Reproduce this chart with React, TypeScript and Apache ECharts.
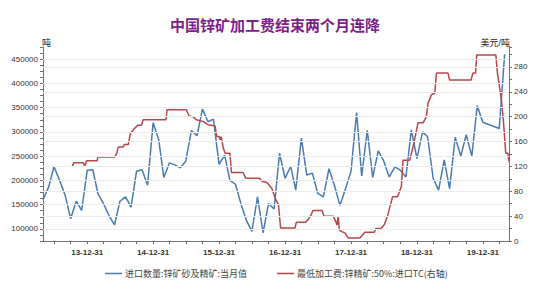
import React, { useEffect, useRef } from "react";
import * as echarts from "echarts";

const titleText = "中国锌矿加工费结束两个月连降";
const blueName = "进口数量:锌矿砂及精矿:当月值";
const redName = "最低加工费:锌精矿:50%:进口TC(右轴)";
const leftUnit = "吨";
const rightUnit = "美元/吨";

// monthly values, month-end, starting 2013-04
const blueStartYear = 2013;
const blueStartMonth = 4;
const blueValues: (number | null)[] = [
  160000, 186000, 228000, 200000, 169000, 121000, 157000, 138000, 221000, 222000,
  173000, 152000, 128000, 108000, 157000, 166000, 145000, 219000, 222000, 190000,
  319000, 284000, 206000, 236000, 232000, 226000, 240000, 303000, 292000, 347000,
  321000, 326000, 233000, 252000, 200000, 192000, 152000, 117000, 95000, 166000,
  92000, 152000, 141000, 256000, 204000, 229000, 180000, 287000, 211000, 215000,
  173000, 166000, 224000, 190000, 148000, 182000, 219000, 340000, 209000, 303000,
  206000, 261000, 240000, 207000, 228000, 221000, 207000, 304000, 245000, 300000,
  290000, 204000, 180000, 242000, 183000, 289000, 250000, 294000, 250000, 354000,
  320000, null, null, 307000, 460000,
];

const redDates = [
  "2013-10-09", "2013-10-18", "2013-12-09", "2013-12-18", "2013-12-27", "2014-02-24", "2014-02-27",
  "2014-05-31", "2014-06-12", "2014-06-21", "2014-07-18", "2014-07-24", "2014-08-15", "2014-08-27",
  "2014-09-12", "2014-10-06", "2014-10-27", "2014-11-06", "2015-03-12", "2015-03-18", "2015-07-03",
  "2015-07-18", "2015-08-09", "2015-08-27", "2015-10-06", "2015-10-31", "2015-12-09", "2015-12-18",
  "2015-12-31", "2016-01-06", "2016-01-12", "2016-01-24", "2016-02-03", "2016-02-29", "2016-03-09",
  "2016-05-12", "2016-05-27", "2016-08-12", "2016-08-24", "2016-09-21", "2016-10-18", "2016-11-06",
  "2016-11-24", "2016-12-06", "2017-02-24", "2017-03-03", "2017-04-24", "2017-05-06", "2017-05-24",
  "2017-06-03", "2017-07-24", "2017-08-03", "2017-09-24", "2017-10-03", "2017-10-15", "2017-10-21",
  "2017-10-27", "2017-11-09", "2017-11-27", "2017-12-15", "2018-02-18", "2018-03-06", "2018-03-18",
  "2018-05-09", "2018-05-18", "2018-06-15", "2018-07-03", "2018-07-21", "2018-08-09", "2018-08-18",
  "2018-09-15", "2018-10-06", "2018-10-15", "2018-11-21", "2018-12-06", "2018-12-18", "2019-01-06",
  "2019-02-03", "2019-02-21", "2019-03-03", "2019-03-21", "2019-04-09", "2019-04-18", "2019-06-21",
  "2019-06-30", "2019-10-27", "2019-11-06", "2019-11-21", "2019-11-27", "2020-03-12", "2020-03-21",
  "2020-04-12", "2020-04-24", "2020-05-06", "2020-05-18", "2020-05-24",
];
const redValues = [
  120, 126, 126, 120, 129, 129, 135,
  135, 141, 151, 151, 155, 155, 173,
  179, 186, 186, 195, 195, 211, 211,
  201, 200, 195, 192, 187, 185, 168,
  168, 163, 168, 149, 141, 141, 110,
  110, 101, 101, 96, 94, 85, 69,
  58, 21, 21, 30, 30, 34, 42,
  49, 49, 40, 40, 34, 26, 40,
  18, 15, 13, 5, 5, 10, 14,
  14, 20, 20, 26, 40, 61, 71,
  71, 88, 130, 130, 147, 163, 190,
  190, 200, 222, 235, 238, 270, 270,
  259, 259, 270, 270, 299, 299, 270,
  227, 190, 141, 141, 128,
];

const xLabelDates = ["2013-12-31", "2014-12-31", "2015-12-31", "2016-12-31", "2017-12-31", "2018-12-31", "2019-12-31"];
const leftTicks = [100000, 150000, 200000, 250000, 300000, 350000, 400000, 450000];
const rightTicks = [0, 40, 80, 120, 160, 200, 240, 280];
const leftMin = 75000;
const leftMax = 475000;
const rightMin = 0;
const rightMax = 312;
const xMinDate = "2013-04-30";
const xMaxDate = "2020-05-24";

const ts = (s: string) => {
  const [y, m, d] = s.split("-").map(Number);
  return Date.UTC(y, m - 1, d);
};
const monthEnd = (y: number, m: number) => Date.UTC(y, m, 0);

export default function App() {
  const ref = useRef<HTMLDivElement>(null);
  useEffect(() => {
    if (!ref.current) return;
    const chart = echarts.init(ref.current, null, { renderer: "svg" });
    const blueData = blueValues.map((v, i) => {
      const total = blueStartMonth - 1 + i;
      const y = blueStartYear + Math.floor(total / 12);
      const m = (total % 12) + 1;
      return [monthEnd(y, m), v];
    });
    const redData = redDates.map((d, i) => [ts(d), redValues[i]]);
    // quarter-end tick positions
    const quarterTicks: number[] = [];
    for (let y = 2013; y <= 2020; y++) {
      for (const m of [3, 6, 9, 12]) {
        const t = monthEnd(y, m);
        if (t > ts(xMinDate) && t < ts(xMaxDate)) quarterTicks.push(t);
      }
    }
    const font = "'Liberation Sans', 'Noto Sans CJK SC', sans-serif";
    const gridColor = "#ececec";
    const axisColor = "#707070";
    const plain = (v: number) => String(v);
    const option: any = {
      animation: false,
      textStyle: { fontFamily: font },
      title: {
        text: titleText,
        left: "center",
        top: 12,
        textStyle: {
          fontSize: 15,
          fontWeight: "bold",
          color: "#7e1f8a",
          fontFamily: "'Noto Sans CJK SC', sans-serif",
        },
      },
      legend: {
        left: 100,
        top: 264,
        icon: "path://M0,0 L17,0 L17,1.5 L0,1.5 Z",
        itemWidth: 17,
        itemHeight: 1.5,
        itemGap: 30,
        itemStyle: { borderWidth: 0 },
        textStyle: { fontSize: 9, color: "#444", fontFamily: "'Noto Sans CJK SC', sans-serif", padding: [0, 0, 0, -2] },
        data: [blueName, redName],
      },
      grid: { left: 43, right: 41, top: 47, bottom: 59 },
      xAxis: {
        type: "value",
        min: ts(xMinDate),
        max: ts(xMaxDate),
        axisLine: { lineStyle: { color: axisColor } },
        axisTick: {
          show: true,
          length: 3,
          customValues: quarterTicks,
          lineStyle: { color: axisColor },
        },
        axisLabel: {
          customValues: xLabelDates.map(ts),
          fontSize: 8,
          fontWeight: "bold",
          color: "#333",
          margin: 7,
          formatter: (v: number) => {
            const d = new Date(v);
            const yy = String(d.getUTCFullYear()).slice(2);
            const mm = String(d.getUTCMonth() + 1).padStart(2, "0");
            const dd = String(d.getUTCDate()).padStart(2, "0");
            return `${yy}-${mm}-${dd}`;
          },
        },
        splitLine: { show: false },
      },
      yAxis: [
        {
          type: "value",
          position: "left",
          min: leftMin,
          max: leftMax,
          interval: 12500,
          name: leftUnit,
          nameLocation: "end",
          nameGap: 0,
          nameTextStyle: { fontSize: 9, color: "#222", align: "left", padding: [0, 0, 0, -1] },
          axisLine: { show: true, lineStyle: { color: axisColor } },
          axisTick: { show: true, length: 3, lineStyle: { color: axisColor } },
          axisLabel: { customValues: leftTicks, fontSize: 8, color: "#333", margin: 5, formatter: plain },
          splitLine: { show: false },
        },
        {
          type: "value",
          position: "right",
          min: rightMin,
          max: rightMax,
          interval: 20,
          name: rightUnit,
          nameLocation: "end",
          nameGap: 0,
          nameTextStyle: { fontSize: 9, color: "#222", align: "right", padding: [0, -1, 0, 0] },
          axisLine: { show: true, lineStyle: { color: axisColor } },
          axisTick: { show: true, length: 3, lineStyle: { color: axisColor } },
          axisLabel: { customValues: rightTicks, fontSize: 8, color: "#333", margin: 5, formatter: plain },
          splitLine: { show: false },
        },
      ],
      series: [
        {
          type: "line",
          name: "gridLeft",
          data: [],
          yAxisIndex: 0,
          silent: true,
          markLine: {
            silent: true,
            symbol: "none",
            label: { show: false },
            lineStyle: { color: gridColor, type: "solid", width: 1 },
            data: leftTicks.map((v) => ({ yAxis: v })),
          },
        },
        {
          type: "line",
          name: "gridRight",
          data: [],
          yAxisIndex: 1,
          silent: true,
          markLine: {
            silent: true,
            symbol: "none",
            label: { show: false },
            lineStyle: { color: gridColor, type: "solid", width: 1 },
            data: rightTicks.filter((v) => v > 0).map((v) => ({ yAxis: v })),
          },
        },
        {
          type: "line",
          name: blueName,
          data: blueData,
          yAxisIndex: 0,
          showSymbol: false,
          symbol: "none",
          connectNulls: true,
          lineStyle: { color: "#4a7bb0", width: 1.5 },
          itemStyle: { color: "#4a7bb0" },
        },
        {
          type: "line",
          name: redName,
          data: redData,
          yAxisIndex: 1,
          showSymbol: false,
          symbol: "none",
          lineStyle: { color: "#b9474a", width: 1.5 },
          itemStyle: { color: "#b9474a" },
        },
      ],
    };
    chart.setOption(option);
    return () => chart.dispose();
  }, []);
  return <div ref={ref} style={{ width: 550, height: 300, position: "absolute", left: 0, top: 0, background: "#fff" }} />;
}
